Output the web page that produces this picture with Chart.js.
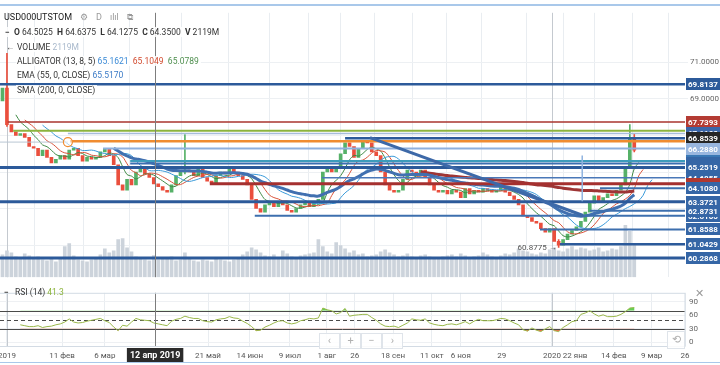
<!DOCTYPE html>
<html>
<head>
<meta charset="utf-8">
<script src="https://cdn.jsdelivr.net/npm/chart.js@4.4.1/dist/chart.umd.min.js"></script>
<style>
  body { margin: 0; background: #fff; font-family: Roboto, "Liberation Sans", sans-serif; }
  #wrap { position: relative; width: 720px; height: 365px; overflow: hidden; }
  canvas { position: absolute; left: 0; }
  #main { top: 6px; }
  #rsi { top: 284px; }
  .frame { position: absolute; left: 0; width: 720px; background: #a9c8ea; }
  .row { position: absolute; height: 12px; line-height: 12px; font-size: 8.5px; color: #333; white-space: nowrap; }
  .bg { background: rgba(255,255,255,0.85); padding: 0 2px 0 1px; }
  .ic { color: #9a9a9a; margin-left: 8px; }
  .btn { position: absolute; width: 19px; height: 14px; border: 1px solid #dfe4ea; background: rgba(255,255,255,0.85);
         color: #b0b0b0; font-size: 11px; line-height: 14px; text-align: center; }
</style>
</head>
<body>
<div id="wrap">
  <canvas id="main" width="720" height="278"></canvas>
  <canvas id="rsi" width="720" height="81"></canvas>

  <div class="frame" style="top:4px;height:2px"></div>
  <div class="frame" style="top:362px;height:1px"></div>

  <div class="row" style="left:4px;top:11px;font-size:9px;color:#222">USD000UTSTOM<span class="ic">⚙</span><span class="ic">D</span><span class="ic">ılıl</span><span class="ic">⧉</span></div>
  <div class="row" style="left:4px;top:26px"><span class="bg"><b>−</b>&nbsp;&nbsp;<b>O</b> 64.5025&nbsp;&nbsp;<b>H</b> 64.6375&nbsp;&nbsp;<b>L</b> 64.1275&nbsp;&nbsp;<b>C</b> 64.3500&nbsp;&nbsp;<b>V</b> 2119M</span></div>
  <div class="row" style="left:6px;top:41px;color:#555">←</div>
  <div class="row" style="left:16px;top:41px"><span class="bg">VOLUME <span style="color:#a9b9cc">2119M</span></span></div>
  <div class="row" style="left:16px;top:55px"><span class="bg">ALLIGATOR (13, 8, 5) <span style="color:#3a8ad6">65.1621</span>&nbsp; <span style="color:#d24a2e">65.1049</span>&nbsp; <span style="color:#4f8f4f">65.0789</span></span></div>
  <div class="row" style="left:16px;top:69px"><span class="bg">EMA (55, 0, CLOSE) <span style="color:#3a7ac6">65.5170</span></span></div>
  <div class="row" style="left:16px;top:84px"><span class="bg">SMA (200, 0, CLOSE)</span></div>

  <div class="row" style="left:4px;top:286px"><b>−</b>&nbsp;&nbsp; RSI (14) <span style="color:#8bb33a">41.3</span></div>
  <div class="row" style="left:695px;top:288px;font-size:11px;color:#999">✕</div>

  <div class="btn" style="left:319px;top:333px">‹</div>
  <div class="btn" style="left:340px;top:333px">+</div>
  <div class="btn" style="left:361px;top:333px">−</div>
  <div class="btn" style="left:382px;top:333px">›</div>
  <div class="btn" style="left:667px;top:331px;width:16px;height:16px;line-height:16px">⟲</div>
</div>

<script>
// candle closes, one bar per ~3 calendar days (Jan 2019 .. Feb 2020)
const firstOpen = 68.9;
const closes = [
  69.6, 67.6, 67.2, 67.0, 67.1, 66.9, 66.4, 66.3, 65.9, 66.2,
  65.8, 65.5, 65.7, 65.9, 65.7, 66.2, 66.3, 65.9, 65.6, 65.8,
  65.7, 65.8, 66.1, 66.3, 65.9, 65.4, 64.3, 64.0, 64.6, 64.3,
  65.0, 65.2, 64.9, 64.7, 64.35, 64.2, 64.0, 63.9, 64.3, 64.8,
  65.0, 65.1, 65.0, 64.8, 65.2, 64.7, 64.5, 64.4, 64.8, 65.0,
  64.9, 65.2, 65.0, 64.8, 64.6, 64.3, 63.5, 63.0, 62.8, 63.2,
  63.3, 63.1, 63.4, 63.2, 62.9, 62.8, 63.0, 63.2, 63.3, 63.1,
  63.4, 63.5, 65.0, 65.2, 65.0, 65.3, 66.0, 66.6, 66.4, 65.8,
  66.3, 66.7, 66.6, 66.1, 65.9, 65.0, 64.3, 64.0, 63.9, 64.0,
  64.6, 65.1, 65.0, 64.8, 65.1, 64.7, 64.3, 64.0, 63.9, 64.0,
  63.8, 64.0, 63.9, 63.6, 64.1, 63.8, 64.0, 63.9, 64.1, 64.0,
  63.9, 64.0, 64.2, 63.9, 63.7, 63.5, 63.2, 62.6, 62.5, 62.3,
  62.2, 61.9, 61.7, 61.9, 61.2, 61.0, 61.3, 61.6, 61.8, 62.0,
  62.3, 62.8, 63.3, 63.7, 63.4, 63.6, 63.8, 63.7, 64.0, 64.3,
  65.2, 66.9, 66.2
];
// long wicks that stand out
const tailBar  = [1, 41, 125, 141, 142];
const tailHigh = [71.5, 67.05, 61.3, 67.6, 67.1];
const tailLow  = [67.5, 64.9, 60.8775, 65.2, 66.1];

// volume, millions
const volumes = [
  2200, 2600, 2400, 2000, 1800, 2300, 2100, 1900, 2000, 1700,
  1600, 1800, 1500, 1900, 3000, 3300, 2100, 1700, 1600, 1500,
  1700, 1900, 2200, 2800, 2400, 2600, 3700, 3800, 2900, 2500,
  2000, 1800, 1700, 1600, 2119, 1700, 1900, 1800, 2000, 1600,
  1700, 2400, 1800, 1600, 1500, 1700, 1600, 1500, 1800, 1700,
  1600, 1500, 1700, 1800, 2200, 2500, 2900, 2700, 2400, 2100,
  2000, 2200, 1900, 2600, 2300, 2000, 1900, 2100, 2200, 2300,
  2400, 3700, 3000, 2500, 2300, 3400, 3100, 2800, 2400, 2600,
  2200, 2300, 2000, 2100, 2200, 2500, 2700, 2400, 2200, 2000,
  2100, 2300, 2000, 1900, 2100, 2200, 2000, 1800, 1900, 2000,
  2100, 2200, 2000, 2300, 2100, 1900, 2000, 2100, 2400, 2200,
  2000, 1900, 2100, 2300, 2200, 2400, 2800, 2600, 2500, 2300,
  2200, 2400, 2300, 2700, 2900, 2600, 2500, 2800, 3000, 2700,
  2900, 2800, 2600, 2700, 2900, 2500, 2600, 2800, 2700, 3000,
  5100, 4500, 3300
];

// RSI(14) read per bar
const rsiValues = [
  null, null, null, null,
  39, 37, 35, 35, 37, 33, 35, 36, 39, 41,
  45, 52, 45, 43, 44, 47, 49, 51, 53, 48,
  44, 34, 26, 38, 36, 45, 53, 50, 49, 48,
  43, 41, 39, 37, 47, 51, 53, 58, 55, 53,
  53, 48, 46, 45, 50, 52, 53, 57, 54, 53,
  47, 42, 35, 26, 27, 34, 38, 43, 47, 48,
  43, 41, 43, 48, 50, 53, 52, 54, 76, 72,
  70, 63, 66, 75, 58, 60, 61, 62, 62, 55,
  49, 41, 36, 35, 36, 33, 38, 43, 52, 50,
  49, 52, 43, 40, 38, 37, 40, 41, 39, 42,
  46, 41, 47, 51, 48, 48, 48, 50, 53, 52,
  48, 43, 39, 28, 25, 32, 27, 24, 30, 35,
  26, 24, 33, 39, 46, 48, 62, 65, 70, 63,
  58, 61, 57, 57, 58, 62, 68, 76, 77
];

// time axis (bar units)
const tickPos = [1.0, 13.4, 23.0, 34.3, 46.2, 55.6, 64.6, 72.9, 79.2, 87.8, 96.5, 103.0, 112.2, 123.5, 128.7, 137.4, 145.9, 153.4];
const tickLabels = ['2019', '11 фев', '6 мар', '12 апр 2019', '21 май', '14 июн', '9 июл', '1 авг', '26', '18 сен', '11 окт', '6 ноя', '29', '2020', '22 янв', '14 фев', '9 мар', '26'];
const yearMarks = [1.0, 123.5];
const crossIdx = 3;

// horizontal levels drawn on the chart
const levelPrice = [69.8137, 67.7393, 67.26, 67.11, 66.8539, 66.69, 66.2880, 65.61, 65.47, 65.2519, 64.6855, 64.36, 64.1080, 63.3721, 62.6105, 62.8731, 61.8588, 61.0429, 60.2868];
const levelFrom  = [-0.6, 1.2, 2.4, 14.7, 77.0, 15.2, 22.6, 28.7, 28.7, -0.6, 71.8, 46.6, 134.3, -0.6, 56.7, 132.0, 120.8, 125.3, -0.6];
const levelColors = ['#2c5a9a', '#a8342e', '#8cb43e', '#a7bddb', '#2c5a9a', '#f08c30', '#8fb0dd', '#3d9cbb', '#3b6fb1', '#2c5a9a', '#4a78b8', '#a5302f', '#3d6fae', '#2c5a9a', '#3d6fae', '#3d6fae', '#3d6fae', '#2c5a9a', '#2c5a9a'];
const levelWidths = [2.5, 1.5, 2, 1.5, 2.5, 2.5, 2, 2, 2, 3, 1.5, 3, 2, 3, 2, 2, 2, 2.5, 3];
const levelBoxes = ['#2c5a9a', '#b43b33', null, '#3b66a8', '#262626', null, '#98b6df', '#3a78b5', '#3566a6', '#3566a6', '#3566a6', '#b03830', '#3566a6', '#3566a6', '#3566a6', '#3566a6', '#3566a6', '#3566a6', '#3566a6'];

// other drawings [bar, price]
const trendA = [[82.6, 66.88], [130.5, 62.62]];
const trendB = [[130.3, 65.9], [130.3, 63.4]];
const trendC = [[-0.6, 66.64], [14.7, 66.64]];
const circleAt = [14.7, 66.64];
const lowMark = [125, 60.8775];

const X_MIN = -0.56, X_MAX = 153.4;

// ---- derived series ----
const opens = closes.map((c, i) => i === 0 ? firstOpen : closes[i - 1]);
const UP = '#56b168', DOWN = '#ea4f3d';
const candleColors = closes.map((c, i) => c >= opens[i] ? UP : DOWN);

function smma(n) {
  const out = []; let v = null;
  closes.forEach((c, i) => {
    if (i < n - 1) { out.push(null); return; }
    if (v === null) v = closes.slice(i - n + 1, i + 1).reduce((a, b) => a + b, 0) / n;
    else v = (v * (n - 1) + c) / n;
    out.push(v);
  });
  return out;
}
function ema(n) {
  const out = []; let v = null; const k = 2 / (n + 1);
  closes.forEach((c, i) => {
    if (i < n - 1) { out.push(null); return; }
    if (v === null) v = closes.slice(0, n).reduce((a, b) => a + b, 0) / n;
    else v = v + k * (c - v);
    out.push(v);
  });
  return out;
}
function sma(n) {
  return closes.map((c, i) => i < n - 1 ? null : closes.slice(i - n + 1, i + 1).reduce((a, b) => a + b, 0) / n);
}
const toPts = (arr, shift) => arr.map((v, i) => v === null ? null : { x: i + shift, y: v }).filter(Boolean);

// bar periods scaled from daily 13/8/5, 55, 200 to ~2 trading days per bar
const jaw = toPts(smma(6), 4), teeth = toPts(smma(4), 2), lips = toPts(smma(3), 1);
const ema55 = toPts(ema(26), 0), sma200 = toPts(sma(95), 0);

function vLines(chart) {
  const { ctx, chartArea: a, scales: { x } } = chart;
  ctx.save();
  ctx.lineWidth = 1;
  yearMarks.forEach(v => {
    const px = Math.round(x.getPixelForValue(v)) + 0.5;
    ctx.strokeStyle = '#c4c9cf';
    ctx.beginPath(); ctx.moveTo(px, a.top); ctx.lineTo(px, a.bottom); ctx.stroke();
  });
  ctx.restore();
}
function crossLine(chart) {
  const { ctx, chartArea: a, scales: { x } } = chart;
  const px = Math.round(x.getPixelForValue(tickPos[crossIdx])) + 0.5;
  ctx.save();
  ctx.strokeStyle = '#7d7d7d'; ctx.lineWidth = 1;
  ctx.beginPath(); ctx.moveTo(px, a.top); ctx.lineTo(px, a.bottom); ctx.stroke();
  ctx.restore();
}

const mainDrawings = {
  id: 'mainDrawings',
  beforeDatasetsDraw(chart) { vLines(chart); },
  afterDatasetsDraw(chart) {
    const { ctx, chartArea: a, scales: { x, y } } = chart;
    ctx.save();
    ctx.beginPath(); ctx.rect(a.left, a.top, a.width, a.height); ctx.clip();
    levelPrice.forEach((p, i) => {
      const yy = y.getPixelForValue(p);
      ctx.strokeStyle = levelColors[i]; ctx.lineWidth = levelWidths[i];
      ctx.beginPath(); ctx.moveTo(x.getPixelForValue(levelFrom[i]), yy); ctx.lineTo(a.right, yy); ctx.stroke();
    });
    const seg = (pts, color, w) => {
      ctx.strokeStyle = color; ctx.lineWidth = w;
      ctx.beginPath();
      ctx.moveTo(x.getPixelForValue(pts[0][0]), y.getPixelForValue(pts[0][1]));
      ctx.lineTo(x.getPixelForValue(pts[1][0]), y.getPixelForValue(pts[1][1]));
      ctx.stroke();
    };
    seg(trendA, '#3d69a8', 3);
    seg(trendB, '#8fb3e0', 1.5);
    seg(trendC, '#b9c6d3', 1);
    ctx.strokeStyle = '#f08c30'; ctx.lineWidth = 1.2; ctx.fillStyle = 'rgba(255,255,255,0.6)';
    ctx.beginPath();
    ctx.arc(x.getPixelForValue(circleAt[0]), y.getPixelForValue(circleAt[1]), 4.5, 0, Math.PI * 2);
    ctx.fill(); ctx.stroke();
    ctx.fillStyle = '#555'; ctx.font = '8px Roboto'; ctx.textAlign = 'right'; ctx.textBaseline = 'middle';
    ctx.fillText(lowMark[1].toFixed(4) + ' →', x.getPixelForValue(lowMark[0]) - 2, y.getPixelForValue(lowMark[1]) + 1);
    ctx.restore();
    crossLine(chart);
  },
  afterDraw(chart) {
    const { ctx, chartArea: a, scales: { y } } = chart;
    ctx.save();
    ctx.font = 'bold 8px Roboto'; ctx.textBaseline = 'middle'; ctx.textAlign = 'left';
    levelPrice.forEach((p, i) => {
      if (!levelBoxes[i]) return;
      const yy = Math.round(y.getPixelForValue(p));
      ctx.fillStyle = levelBoxes[i];
      ctx.fillRect(a.right + 1, yy - 6, chart.width - a.right - 1, 12);
      ctx.fillStyle = '#fff';
      ctx.fillText(p.toFixed(4), a.right + 3, yy + 0.5);
    });
    ctx.restore();
  }
};

// overbought / oversold shading between the RSI line and the 70 / 30 levels
function rsiBands(chart) {
  const { ctx, chartArea: a, scales: { y } } = chart;
  const pts = chart.getDatasetMeta(0).data;
  if (!pts.length) return;
  [[30, false, '#ef6a4c'], [70, true, '#62cf55']].forEach(([lvl, above, color]) => {
    const yl = y.getPixelForValue(lvl);
    ctx.save();
    ctx.beginPath();
    if (above) ctx.rect(a.left, a.top, a.width, yl - a.top);
    else ctx.rect(a.left, yl, a.width, a.bottom - yl);
    ctx.clip();
    ctx.beginPath();
    ctx.moveTo(pts[0].x, yl);
    pts.forEach(p => ctx.lineTo(p.x, p.y));
    ctx.lineTo(pts[pts.length - 1].x, yl);
    ctx.closePath();
    ctx.fillStyle = color; ctx.fill();
    ctx.restore();
  });
}

const rsiDrawings = {
  id: 'rsiDrawings',
  beforeDatasetsDraw(chart) {
    vLines(chart);
    rsiBands(chart);
    const { ctx, chartArea: a, scales: { y } } = chart;
    ctx.save();
    ctx.strokeStyle = '#4a4a4a'; ctx.lineWidth = 1;
    [70, 50, 30].forEach(v => {
      const yy = Math.round(y.getPixelForValue(v)) + 0.5;
      ctx.setLineDash(v === 50 ? [4, 3] : []);
      ctx.beginPath(); ctx.moveTo(a.left, yy); ctx.lineTo(a.right, yy); ctx.stroke();
    });
    ctx.restore();
  },
  afterDatasetsDraw(chart) {
    crossLine(chart);
    const { ctx, chartArea: a } = chart;
    ctx.save();
    ctx.strokeStyle = '#d3dbe4'; ctx.lineWidth = 1;
    ctx.strokeRect(a.left - 0.5, a.top + 0.5, a.width + 0.5, a.height);
    ctx.restore();
  },
  afterDraw(chart) {
    const { ctx, chartArea: a, scales: { x } } = chart;
    const px = x.getPixelForValue(tickPos[crossIdx]);
    ctx.save();
    ctx.font = 'bold 9px Roboto';
    const w = ctx.measureText(tickLabels[crossIdx]).width + 6;
    ctx.fillStyle = '#2b2b2b';
    ctx.fillRect(px - w / 2, a.bottom + 2, w, 15);
    ctx.fillStyle = '#fff'; ctx.textAlign = 'center'; ctx.textBaseline = 'middle';
    ctx.fillText(tickLabels[crossIdx], px, a.bottom + 10);
    ctx.restore();
  }
};

const timeTicks = s => { s.ticks = tickPos.map(v => ({ value: v })); };

new Chart(document.getElementById('main').getContext('2d'), {
  type: 'line',
  data: {
    datasets: [
      { type: 'bar', yAxisID: 'vol', data: volumes.map((v, i) => ({ x: i, y: v })), backgroundColor: '#ccd3db',
        barThickness: 3, grouped: false, order: 10 },
      { type: 'bar', data: tailBar.map((b, i) => ({ x: b, y: [tailLow[i], tailHigh[i]] })),
        backgroundColor: tailBar.map(b => candleColors[b]), barThickness: 1, grouped: false, order: 6 },
      { type: 'bar', data: closes.map((c, i) => ({ x: i, y: [opens[i], c] })), backgroundColor: candleColors,
        barThickness: 3, grouped: false, minBarLength: 1, order: 5 },
      { data: jaw, borderColor: '#3a9ad9', borderWidth: 1, order: 3 },
      { data: teeth, borderColor: '#d8533a', borderWidth: 1, order: 3 },
      { data: lips, borderColor: '#3f8a45', borderWidth: 1, order: 3 },
      { data: ema55, borderColor: '#4170b0', borderWidth: 3, order: 2 },
      { data: sma200, borderColor: '#9e3535', borderWidth: 3, order: 2 }
    ]
  },
  options: {
    responsive: false, animation: false, devicePixelRatio: 1,
    layout: { padding: 0 },
    elements: { point: { radius: 0 }, line: { tension: 0.3 } },
    plugins: { legend: { display: false }, tooltip: { enabled: false } },
    scales: {
      x: { type: 'linear', min: X_MIN, max: X_MAX, offset: false,
           ticks: { display: false }, grid: { color: '#e9edf1', drawTicks: false }, border: { display: false },
           afterBuildTicks: timeTicks, afterFit: s => { s.height = 0; s.paddingLeft = 0; s.paddingRight = 0; } },
      y: { position: 'right', min: 59.24, max: 73.72,
           afterBuildTicks: s => { s.ticks = [61, 63, 65, 67, 69, 71].map(v => ({ value: v })); },
           ticks: { color: '#666', font: { size: 8, family: 'Roboto' }, padding: 2, callback: v => v.toFixed(4) },
           grid: { color: '#edf0f3', tickLength: 3 }, border: { display: false },
           afterFit: s => { s.width = 35; } },
      vol: { display: false, min: 0, max: 26000 }
    }
  },
  plugins: [mainDrawings]
});

const rsiPts = rsiValues.map((v, i) => v === null ? null : { x: i, y: v }).filter(Boolean);

new Chart(document.getElementById('rsi').getContext('2d'), {
  type: 'line',
  data: {
    datasets: [
      { data: rsiPts, borderColor: '#9ab84a', borderWidth: 1, tension: 0, fill: false }
    ]
  },
  options: {
    responsive: false, animation: false, devicePixelRatio: 1,
    layout: { padding: { top: 1 } },
    elements: { point: { radius: 0 } },
    plugins: { legend: { display: false }, tooltip: { enabled: false } },
    scales: {
      x: { type: 'linear', min: X_MIN, max: X_MAX, offset: false,
           ticks: { color: '#555', font: { size: 8, family: 'Roboto' }, padding: 5, autoSkip: false, maxRotation: 0,
                    callback: (v, i) => i === crossIdx ? '' : tickLabels[i] },
           grid: { color: '#e9edf1', drawTicks: false }, border: { display: false },
           afterBuildTicks: timeTicks, afterFit: s => { s.height = 19; s.paddingLeft = 0; s.paddingRight = 0; } },
      y: { position: 'right', min: -7.8, max: 109.6,
           afterBuildTicks: s => { s.ticks = [0, 30, 60, 90].map(v => ({ value: v })); },
           ticks: { color: '#666', font: { size: 8, family: 'Roboto' }, padding: 4 },
           grid: { color: '#eef0f3', drawTicks: false }, border: { display: false },
           afterFit: s => { s.width = 35; } }
    }
  },
  plugins: [rsiDrawings]
});
</script>
</body>
</html>
